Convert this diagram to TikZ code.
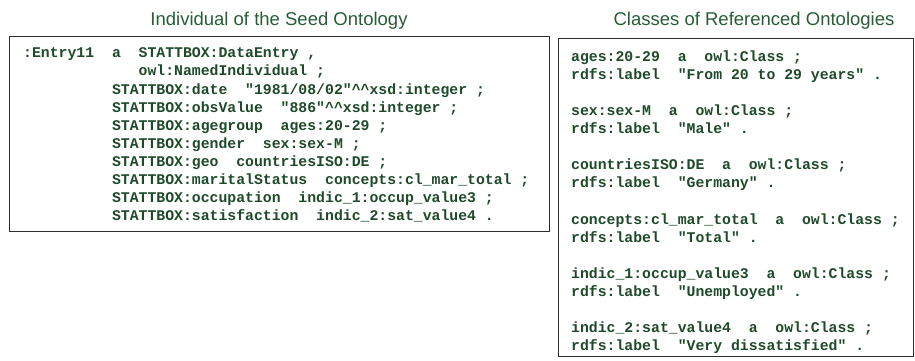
\documentclass[tikz,border=0pt]{standalone}
\usepackage{fontspec}
\setmainfont{Liberation Sans}
\newfontfamily\codefont{Liberation Mono}
\definecolor{titlegreen}{RGB}{40,92,54}
\definecolor{codegreen}{RGB}{30,74,42}
\definecolor{panelline}{RGB}{45,45,45}
% horizontal gap of n monospaced characters
\newcommand\blanks[1]{\hspace*{#1\dimexpr0.6em\relax}}
\tikzset{
  panel/.style={draw=panelline, line width=1.2pt, fill=white, inner sep=0pt, anchor=north west},
  paneltitle/.style={font=\fontsize{18.5}{22}\selectfont, text=titlegreen, inner sep=0pt, anchor=base},
  codetext/.style={font=\codefont\bfseries\fontsize{14.8}{18.1}\selectfont, text=codegreen,
    align=left, inner sep=0pt, anchor=north west},
}
\begin{document}
\begin{tikzpicture}[x=1pt,y=1pt]
\useasboundingbox (0,0) rectangle (915,-360);

% titles
\node[paneltitle] (seedtitle) at (279,-25) {Individual of the Seed Ontology};
\node[paneltitle] (classtitle) at (754,-25) {Classes of Referenced Ontologies};

% frames
\node[panel, minimum width=540pt, minimum height=195pt] (seedbox) at (9,-36) {};
\node[panel, minimum width=355pt, minimum height=318pt] (classbox) at (558,-38) {};

% Turtle description of the individual
\node[codetext] (seedtext) at (23,-45) {%
\rule{0pt}{12.6pt}:Entry11~~a~~STATTBOX:DataEntry~,\\
\blanks{13}owl:NamedIndividual~;\\
\blanks{10}STATTBOX:date~~"1981/08/02"\textasciicircum\textasciicircum xsd:integer~;\\
\blanks{10}STATTBOX:obsValue~~"886"\textasciicircum\textasciicircum xsd:integer~;\\
\blanks{10}STATTBOX:agegroup~~ages:20-29~;\\
\blanks{10}STATTBOX:gender~~sex:sex-M~;\\
\blanks{10}STATTBOX:geo~~countriesISO:DE~;\\
\blanks{10}STATTBOX:maritalStatus~~concepts:cl\_mar\_total~;\\
\blanks{10}STATTBOX:occupation~~indic\_1:occup\_value3~;\\
\blanks{10}STATTBOX:satisfaction~~indic\_2:sat\_value4~.};

% Turtle description of the referenced classes
\node[codetext] (classtext) at (571,-48.4) {%
\rule{0pt}{12.6pt}ages:20-29~~a~~owl:Class~;\\
rdfs:label~~"From~20~to~29~years"~.\\
\\
sex:sex-M~~a~~owl:Class~;\\
rdfs:label~~"Male"~.\\
\\
countriesISO:DE~~a~~owl:Class~;\\
rdfs:label~~"Germany"~.\\
\\
concepts:cl\_mar\_total~~a~~owl:Class~;\\
rdfs:label~~"Total"~.\\
\\
indic\_1:occup\_value3~~a~~owl:Class~;\\
rdfs:label~~"Unemployed"~.\\
\\
indic\_2:sat\_value4~~a~~owl:Class~;\\
rdfs:label~~"Very~dissatisfied"~.};
\end{tikzpicture}
\end{document}
